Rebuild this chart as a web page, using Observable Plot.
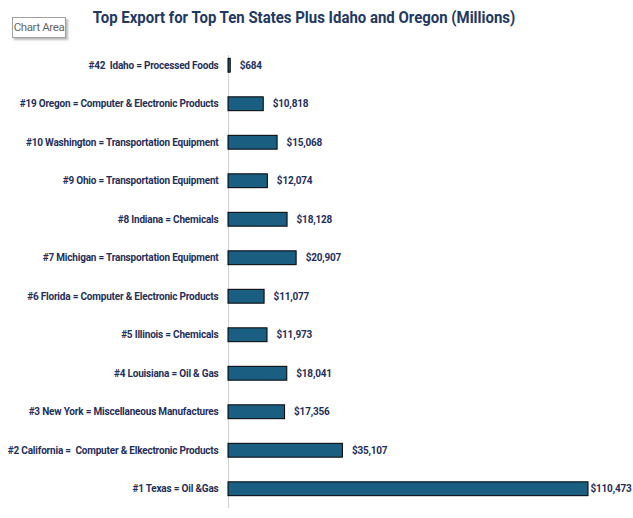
<!DOCTYPE html>
<html><head><meta charset="utf-8">
<script src="https://cdn.jsdelivr.net/npm/d3@7"></script>
<script src="https://cdn.jsdelivr.net/npm/@observablehq/plot@0.6"></script>
<style>
html,body{margin:0;padding:0;background:#fff;}
#wrap{position:relative;width:633px;height:518px;overflow:hidden;}
#title{position:absolute;left:0;width:608px;top:7px;text-align:center;font-family:"Roboto",sans-serif;font-weight:bold;font-size:17px;color:#1f3864;white-space:nowrap;transform:scaleX(0.88);transform-origin:304px 0;}
#ca{position:absolute;left:12px;top:17px;width:54px;height:21px;box-sizing:border-box;border:1px solid #a0a0a0;box-shadow:2px 2px 2px #bbb;background:#fff;font-family:"Roboto",sans-serif;font-size:11.5px;letter-spacing:-0.4px;color:#666;line-height:19px;text-align:center;white-space:nowrap;}
#chart{position:absolute;left:0;top:0;}
</style></head>
<body><div id="wrap"><div id="chart"></div><div id="title">Top Export for Top Ten States Plus Idaho and Oregon (Millions)</div><div id="ca">Chart Area</div></div>
<script>
const categories = [
  "#42  Idaho = Processed Foods",
  "#19 Oregon = Computer & Electronic Products",
  "#10 Washington = Transportation Equipment",
  "#9 Ohio = Transportation Equipment",
  "#8 Indiana = Chemicals",
  "#7 Michigan = Transportation Equipment",
  "#6 Florida = Computer & Electronic Products",
  "#5 Illinois = Chemicals",
  "#4 Louisiana = Oil & Gas",
  "#3 New York = Miscellaneous Manufactures",
  "#2 California =  Computer & Elkectronic Products",
  "#1 Texas = Oil &Gas"
];
const values = [684, 10818, 15068, 12074, 18128, 20907, 11077, 11973, 18041, 17356, 35107, 110473];
const data = categories.map((c, i) => ({cat: c, value: values[i]}));
const maxValue = d3.max(values);
const fmt = v => "$" + d3.format(",")(v);
const chart = Plot.plot({
  width: 633, height: 518,
  marginLeft: 228, marginRight: 45, marginTop: 46, marginBottom: 10,
  style: {fontFamily: "Roboto, sans-serif", background: "transparent", letterSpacing: "-0.2px"},
  x: {domain: [0, maxValue], axis: null},
  y: {domain: categories, paddingInner: 0.64, paddingOuter: 0.32, round: false, axis: null},
  marks: [
    Plot.ruleX([0], {stroke: "#d4d4d4", strokeWidth: 1.2, insetTop: 9}),
    Plot.barX(data, {x: "value", y: "cat", fill: "#1a5f82", stroke: "#000", strokeWidth: 1}),
    Plot.text(data, {x: 0, y: "cat", text: "cat", textAnchor: "end", dx: -10, fill: "#1f2f5a", fontWeight: "bold", fontSize: 10}),
    Plot.text(data.filter(d => d.value < maxValue), {x: "value", y: "cat", text: d => fmt(d.value), textAnchor: "start", dx: 9, fill: "#1f2f5a", fontWeight: "bold", fontSize: 10}),
    Plot.text(data.filter(d => d.value === maxValue), {x: "value", y: "cat", text: d => fmt(d.value), textAnchor: "start", dx: 2, fill: "#1f2f5a", fontWeight: "bold", fontSize: 10})
  ]
});
document.getElementById("chart").appendChild(chart);
</script></body></html>
